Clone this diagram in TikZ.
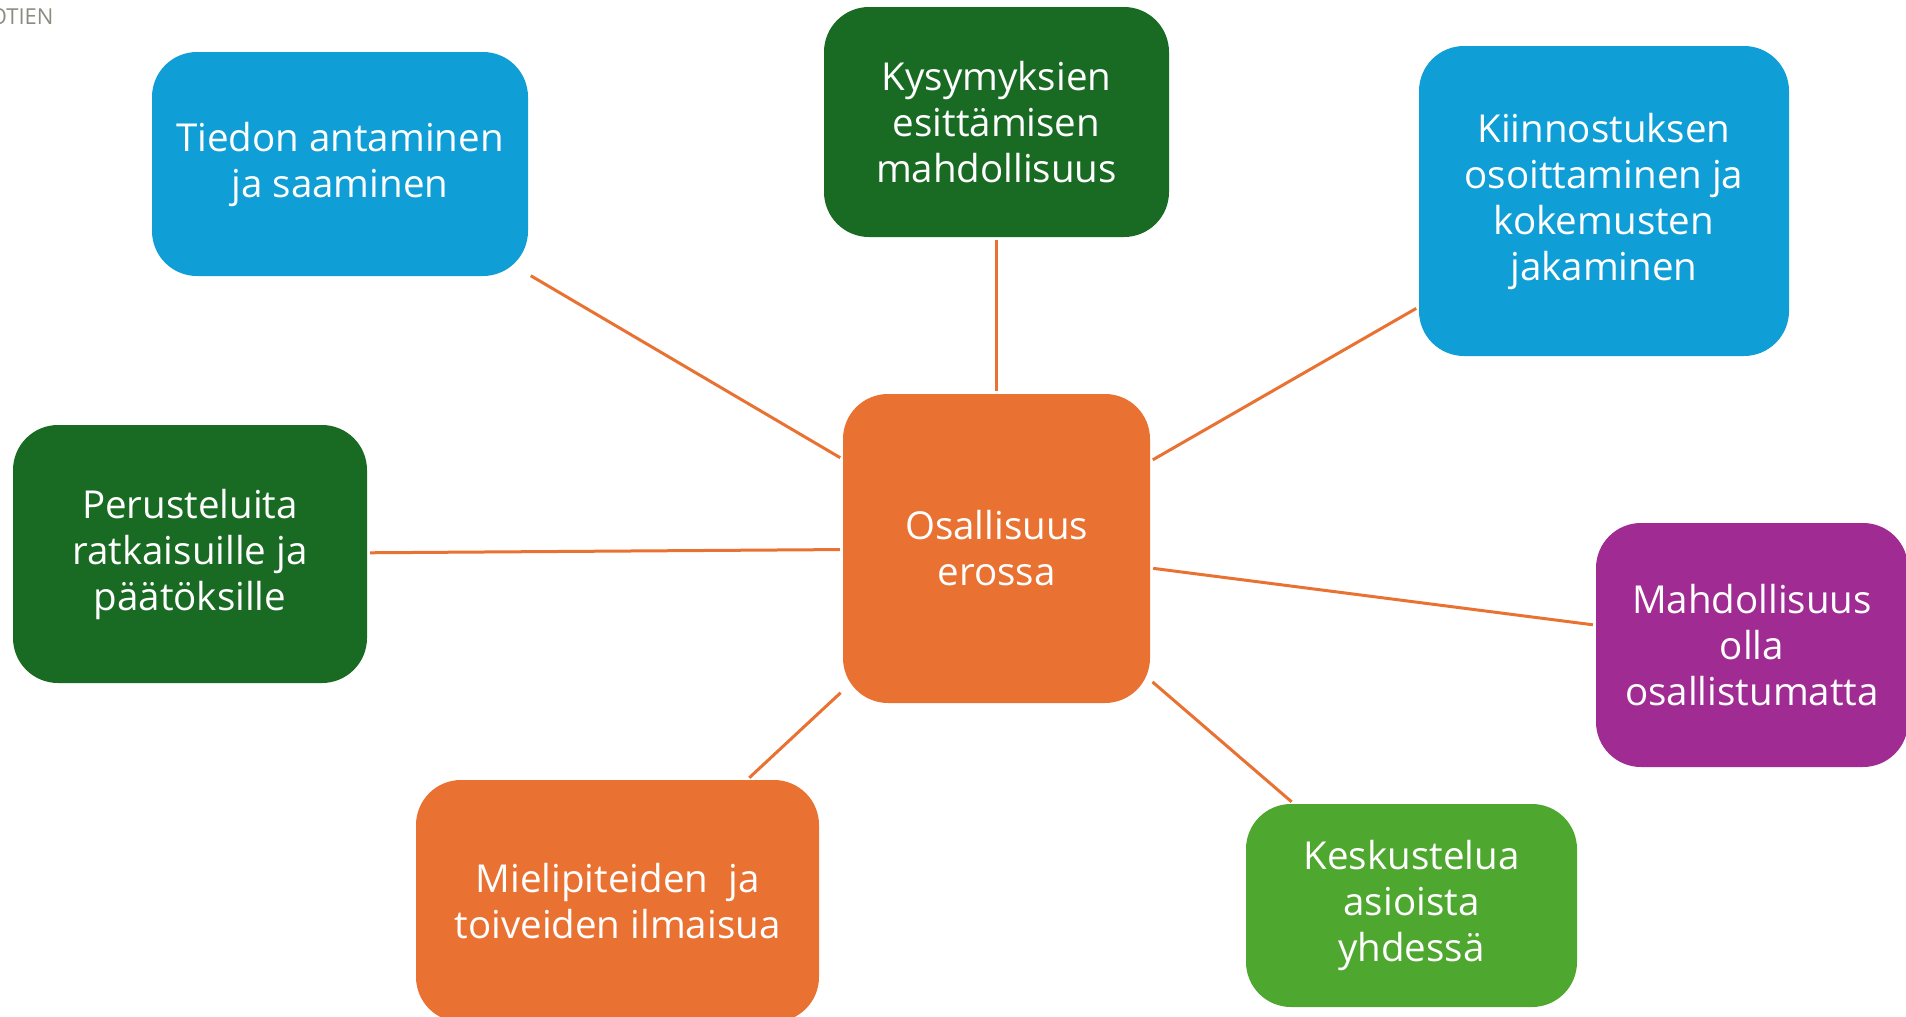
\documentclass[tikz,border=0pt]{standalone}
\usepackage{fontspec}
\setmainfont{Open Sans}
\definecolor{cblue}{HTML}{0F9ED5}
\definecolor{cdgreen}{HTML}{196B24}
\definecolor{corange}{HTML}{E97132}
\definecolor{cpurple}{HTML}{A02B93}
\definecolor{clgreen}{HTML}{4EA72E}
\definecolor{cgray}{HTML}{8C8C80}
\tikzset{
  box/.style={rounded corners=45pt, inner sep=0pt, text=white, align=center,
    font=\fontsize{38.5}{46}\selectfont},
  link/.style={draw=corange, line width=3pt, shorten >=3pt, shorten <=3pt}
}
\begin{document}
\begin{tikzpicture}[x=1pt,y=-1pt]
\useasboundingbox (0,0) rectangle (1906,1017);
\clip (0,0) rectangle (1906,1017);
\node[text=cgray, anchor=east, font=\fontsize{22}{26}\selectfont] (hdr) at (57,17) {OTIEN};
\node[box, fill=corange, minimum width=307pt, minimum height=309pt] (c) at (996.5,548.5) {Osallisuus\\erossa};
\node[box, fill=cblue, minimum width=376pt, minimum height=224pt] (tiedon) at (340,164) {Tiedon antaminen\\ja saaminen};
\node[box, fill=cdgreen, minimum width=345pt, minimum height=230pt] (kysy) at (996.5,122) {Kysymyksien\\esittämisen\\mahdollisuus};
\node[box, fill=cblue, minimum width=370pt, minimum height=310pt] (kiinn) at (1604,201) {Kiinnostuksen\\osoittaminen ja\\kokemusten\\jakaminen};
\node[box, fill=cdgreen, minimum width=354pt, minimum height=258pt] (perus) at (190,554) {Perusteluita\\ratkaisuille ja\\päätöksille};
\node[box, fill=cpurple, minimum width=312pt, minimum height=244pt] (mahd) at (1752,645) {Mahdollisuus\\olla\\osallistumatta};
\node[box, fill=corange, minimum width=403pt, minimum height=242pt] (mieli) at (617.5,901) {Mielipiteiden\ \ ja\\toiveiden ilmaisua};
\node[box, fill=clgreen, minimum width=331pt, minimum height=203pt] (kesk) at (1411.5,905.5) {Keskustelua\\asioista\\yhdessä};
\draw[link] (tiedon) -- (c);
\draw[link] (kysy) -- (c);
\draw[link] (kiinn) -- (c);
\draw[link] (perus) -- (c);
\draw[link] (mahd) -- (c);
\draw[link] (mieli) -- (c);
\draw[link] (kesk) -- (c);
\end{tikzpicture}
\end{document}
